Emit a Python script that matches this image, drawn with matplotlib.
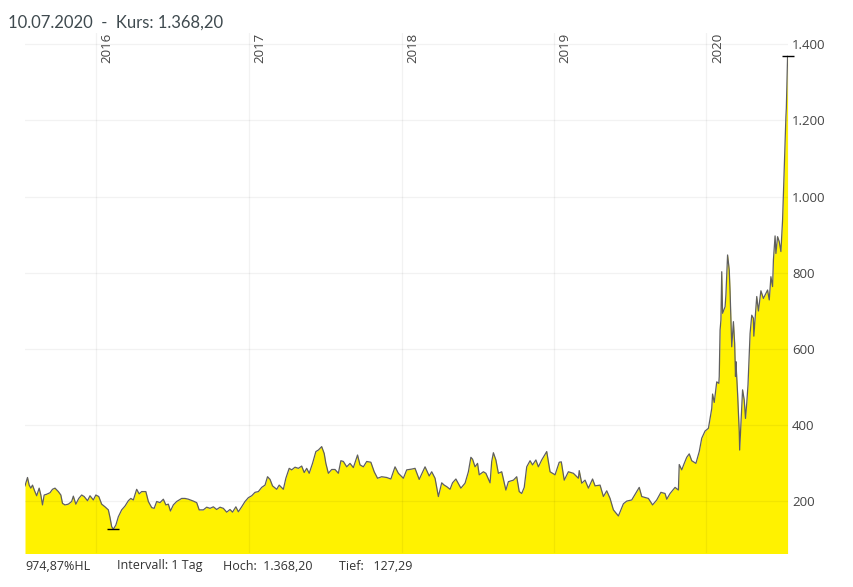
import matplotlib
matplotlib.use('Agg')
import matplotlib.pyplot as plt

# Tage seit Chartbeginn / Kurs
tage = [0, 4, 6, 10, 14, 18, 23, 28, 34, 38, 42, 46, 52, 60, 66, 72, 80, 86, 90, 96,
        104, 112, 116, 122, 129, 136, 142, 150, 156, 164, 170, 177, 184, 192, 200, 204, 208, 212, 218, 224,
        232, 240, 248, 254, 260, 268, 274, 280, 290, 296, 304, 310, 316, 324, 332, 338, 344, 349, 356, 364,
        376, 384, 392, 404, 412, 418, 428, 436, 444, 452, 460, 468, 476, 484, 492, 498, 506, 512, 520, 528,
        536, 544, 552, 560, 568, 576, 582, 588, 594, 604, 610, 620, 626, 634, 640, 648, 656, 664, 670, 676,
        682, 690, 698, 704, 712, 718, 722, 728, 736, 744, 752, 758, 764, 772, 780, 788, 798, 804, 812, 820,
        830, 838, 846, 856, 868, 878, 888, 896, 908, 916, 928, 936, 946, 960, 970,
        976, 984, 992, 1000, 1006, 1012, 1020, 1026, 1034, 1046, 1056, 1064, 1070, 1074, 1080, 1086, 1090, 1100, 1106, 1116,
        1120, 1124, 1130, 1136, 1144, 1154, 1160, 1172, 1180, 1186, 1192, 1198, 1204, 1212, 1218, 1226, 1232, 1240, 1252, 1260,
        1272, 1282, 1287, 1294, 1304, 1316, 1328, 1330, 1336, 1344, 1352, 1362, 1368, 1380, 1388, 1396, 1404, 1412, 1424, 1436,
        1444, 1456, 1474, 1480, 1496, 1506, 1516, 1526, 1536, 1540, 1548, 1560, 1568,
        1570, 1576, 1582, 1588, 1594, 1600, 1610, 1618, 1624, 1632, 1640, 1646, 1648, 1650, 1654, 1660, 1665, 1666, 1668, 1670,
        1672, 1674, 1680, 1682, 1686, 1690, 1692, 1694, 1696, 1700, 1703, 1705, 1706, 1710, 1714, 1715, 1718, 1722, 1726, 1729,
        1732, 1735, 1740, 1744, 1748, 1749, 1754, 1756, 1760, 1766, 1772, 1782, 1786, 1790, 1794, 1796, 1800, 1802, 1806, 1810,
        1814, 1818, 1822, 1826, 1827, 1830]
kurs = [241, 256, 263, 243, 235, 243, 228, 215, 235, 217, 191, 217, 219, 223, 232, 235, 226, 217, 195, 191,
        193, 200, 214, 193, 208, 217, 213, 202, 215, 204, 217, 213, 193, 186, 178, 158, 134, 127.29, 138, 160,
        178, 188, 202, 208, 204, 232, 220, 226, 226, 200, 184, 182, 200, 197, 206, 191, 193, 175, 191, 200,
        208, 208, 206, 201, 197, 178, 178, 185, 182, 186, 179, 185, 182, 172, 179, 172, 186, 173, 186, 200,
        210, 215, 224, 226, 237, 243, 265, 258, 241, 232, 243, 232, 261, 287, 283, 290, 287, 293, 276, 287,
        274, 300, 331, 335, 344, 326, 300, 274, 284, 284, 274, 307, 305, 291, 300, 289, 322, 296, 291, 305,
        303, 278, 261, 265, 263, 259, 291, 274, 261, 283, 285, 287, 258, 291, 267,
        278, 261, 213, 249, 243, 239, 232, 249, 259, 235, 248, 278, 316, 311, 291, 300, 270, 278, 274, 249,
        305, 328, 309, 274, 278, 230, 252, 256, 265, 226, 221, 237, 291, 307, 296, 309, 291, 309, 331, 278,
        270, 303, 304, 256, 278, 274, 261, 281, 248, 256, 235, 259, 241, 243, 213, 228, 208, 178, 162, 194,
        201, 204, 237, 213, 208, 191, 204, 224, 221, 206, 221, 237, 230,
        297, 283, 300, 316, 325, 307, 300, 331, 366, 385, 392, 431, 444, 482, 460, 514, 510, 528, 650, 676,
        803, 694, 711, 742, 847, 808, 751, 676, 606, 672, 615, 528, 567, 484, 383, 335, 405, 493, 466, 418,
        458, 506, 641, 689, 681, 634, 707, 738, 700, 753, 733, 755, 729, 790, 764, 834, 897, 851, 895, 882,
        856, 939, 1074, 1210, 1232, 1368.2]

jahre = ['2016', '2017', '2018', '2019', '2020']
jahr_tage = [170, 538, 905, 1270, 1635]
y_werte = [200, 400, 600, 800, 1000, 1200, 1400]
y_labels = ['200', '400', '600', '800', '1.000', '1.200', '1.400']

W, H = 854, 587
fig = plt.figure(figsize=(W / 100, H / 100), dpi=100)
ax = fig.add_axes([25 / W, 1 - 553 / H, 763 / W, 520 / H])

ax.fill_between(tage, kurs, 0, color='#fff200', lw=0, zorder=1)
ax.plot(tage, kurs, color='#5f5f5f', lw=0.9, zorder=3)

# Gitter liegt leicht sichtbar auch ueber der Flaeche
ax.set_axisbelow(False)
ax.grid(True, color='black', alpha=0.05, lw=0.9)
for s in ax.spines.values():
    s.set_visible(False)

ax.set_xlim(0, 1831)
ax.set_ylim(64.8, 1429.6)
ax.set_xticks(jahr_tage)
ax.set_xticklabels([])
ax.set_yticks(y_werte)
ax.set_yticklabels(y_labels, family='Open Sans', fontsize=9.5, color='#444444')
ax.yaxis.tick_right()
ax.tick_params(length=0, pad=3)

# Jahre senkrecht neben den Gitterlinien
for t, j in zip(jahr_tage, jahre):
    ax.annotate(j, (t, 1), xycoords=('data', 'axes fraction'), xytext=(11, 0),
                textcoords='offset pixels', rotation=90, ha='center', va='top',
                family='Open Sans', fontsize=9.5, color='#444444')

# Hoch / Tief Markierung
i_hoch = kurs.index(max(kurs))
i_tief = kurs.index(min(kurs))
ax.plot([tage[i_hoch], tage[i_tief]], [kurs[i_hoch], kurs[i_tief]], ls='none', marker='_',
        ms=8, mew=1, color='black', zorder=4, clip_on=False)

fig.text(8 / W, 1 - 23 / H, '10.07.2020  -  Kurs: 1.368,20', family='Lato', fontsize=12,
         color='#3f4a4f', va='center')
for x, txt in [(25, '974,87%HL'), (117, 'Intervall: 1 Tag'), (223, 'Hoch:  1.368,20'), (339, 'Tief:   127,29')]:
    fig.text(x / W, 1 - 566 / H, txt, family='Open Sans', fontsize=9, color='#333333', va='center')

fig.savefig('out.png', dpi=100)
